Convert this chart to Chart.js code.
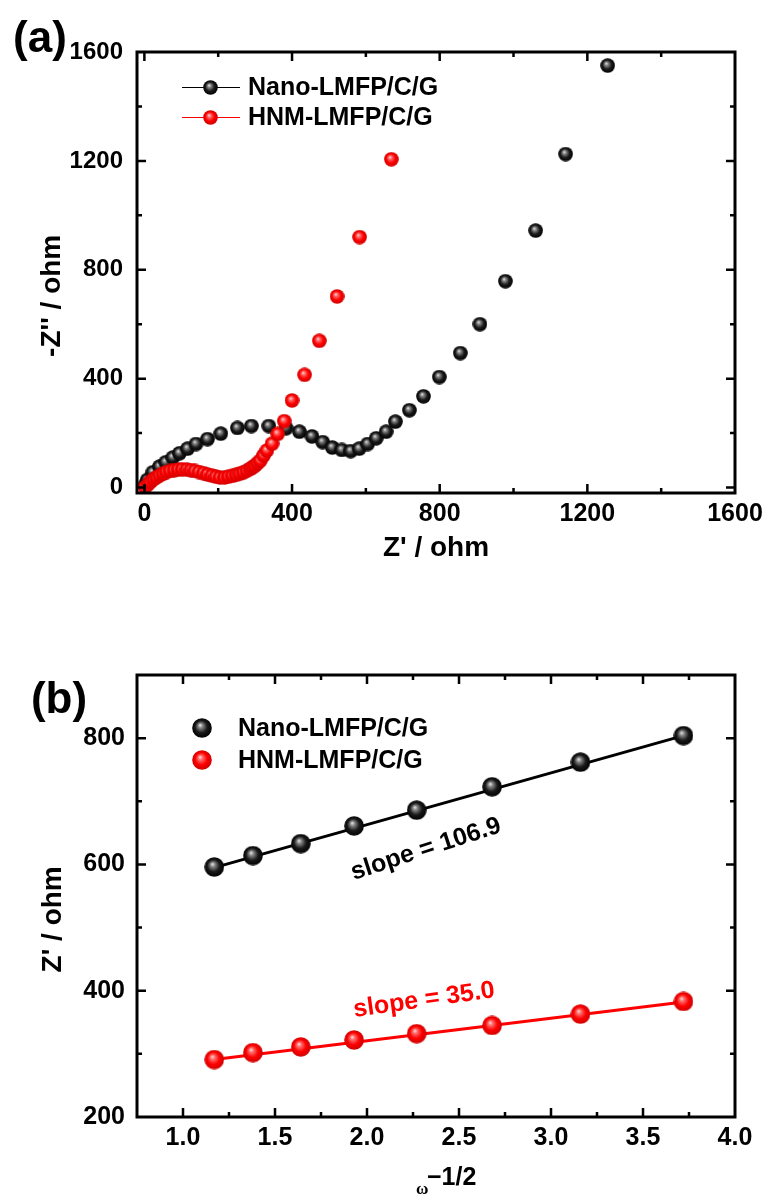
<!DOCTYPE html>
<html>
<head>
<meta charset="utf-8">
<script src="https://cdn.jsdelivr.net/npm/chart.js@4.4.0/dist/chart.umd.min.js"></script>
<style>
  html, body { margin: 0; padding: 0; background: #fff; }
  #wrap { position: relative; width: 769px; height: 1195px; overflow: hidden; }
  canvas { position: absolute; left: 0; }
  #chartA { top: 0; }
  #chartB { top: 600px; }
</style>
</head>
<body>
<div id="wrap">
  <canvas id="chartA" width="769" height="600"></canvas>
  <canvas id="chartB" width="769" height="595"></canvas>
</div>
<script>
var seriesNames = ['Nano-LMFP/C/G', 'HNM-LMFP/C/G'];

// (a) Nyquist plot, Z' and -Z'' in ohm
var nanoZre = [2, 8, 23, 41, 58, 77, 95, 117, 140, 171, 207, 252, 290, 337, 384, 420, 454, 483, 509, 535, 559, 582, 605, 628, 655, 680, 718, 756, 799, 856, 909, 978, 1060, 1141, 1255];
var nanoZim = [10, 28, 56, 77, 93, 110, 126, 143, 160, 178, 198, 219, 226, 226, 218, 205, 188, 167, 147, 138, 134, 143, 160, 181, 205, 242, 284, 335, 406, 494, 600, 758, 944, 1225, 1550];
var hnmZre = [2, 10, 17, 25, 33, 42, 51, 60, 70, 81, 92, 103, 115, 126, 137, 148, 160, 171, 183, 194, 205, 217, 228, 239, 249, 259, 269, 278, 287, 294, 300, 307, 314, 323, 332, 346, 361, 379, 400, 434, 474, 522, 583, 669];
var hnmZim = [1, 12, 22, 31, 38, 45, 51, 57, 61, 64, 66, 67, 66, 64, 61, 57, 53, 48, 44, 40, 37, 37, 40, 43, 47, 51, 56, 62, 69, 75, 81, 90, 99, 118, 136, 161, 197, 244, 320, 414, 539, 702, 920, 1206];
var ticksA = [0, 400, 800, 1200, 1600];

// (b) Z' versus omega^-1/2
var omegaInv = [1.17, 1.38, 1.64, 1.93, 2.27, 2.68, 3.16, 3.72];
var nanoZb = [596, 614, 633, 661, 686, 723, 762, 804];
var hnmZb = [291, 302, 311, 322, 332, 345, 363, 383];
var fitX = [1.17, 3.72];
var nanoFit = [595, 804];
var hnmFit = [291, 382];
var slopeLabels = ['slope = 106.9', 'slope = 35.0'];
var ticksBx = [1.0, 1.5, 2.0, 2.5, 3.0, 3.5, 4.0];
var ticksBy = [200, 400, 600, 800];

var FONT = "'Liberation Sans', Arial, Helvetica, sans-serif";
Chart.defaults.font.family = FONT;
Chart.defaults.color = '#000';

function makeBall(light, mid, dark, edge, d) {
  var c = document.createElement('canvas');
  c.width = d; c.height = d;
  var g = c.getContext('2d');
  var r = d / 2;
  var grad = g.createRadialGradient(r * 0.8, r * 0.7, 0, r, r, r);
  grad.addColorStop(0, light);
  grad.addColorStop(0.22, mid);
  grad.addColorStop(0.6, dark);
  grad.addColorStop(1, edge);
  g.fillStyle = grad;
  g.beginPath();
  g.arc(r, r, r - 0.2, 0, Math.PI * 2);
  g.fill();
  return c;
}
var blackA = makeBall('#f2f2f2', '#8a8a8a', '#1a1a1a', '#000', 15);
var redA = makeBall('#ffe8e8', '#ff7070', '#ff0000', '#cc0000', 15);
var blackB = makeBall('#f2f2f2', '#8a8a8a', '#1a1a1a', '#000', 20);
var redB = makeBall('#ffe8e8', '#ff7070', '#ff0000', '#cc0000', 20);

function toXY(xs, ys) {
  return xs.map(function (x, i) { return {x: x, y: ys[i]}; });
}

function midpoints(arr) {
  var out = [];
  var step = arr[1] - arr[0];
  out.push(arr[0] - step / 2);
  for (var i = 0; i < arr.length; i++) out.push(arr[i] + step / 2);
  return out;
}

// box frame with inward ticks on all four sides
function drawFrame(chart, xMajor, yMajor) {
  var ctx = chart.ctx, a = chart.chartArea;
  var sx = chart.scales.x, sy = chart.scales.y;
  ctx.save();
  ctx.strokeStyle = '#000';
  ctx.lineWidth = 2.5;
  ctx.beginPath();
  function xt(v, len) {
    var p = sx.getPixelForValue(v);
    if (p <= a.left + 2 || p >= a.right - 2) return;
    ctx.moveTo(p, a.bottom); ctx.lineTo(p, a.bottom - len);
    ctx.moveTo(p, a.top); ctx.lineTo(p, a.top + len);
  }
  function yt(v, len) {
    var p = sy.getPixelForValue(v);
    if (p <= a.top + 2 || p >= a.bottom - 2) return;
    ctx.moveTo(a.left, p); ctx.lineTo(a.left + len, p);
    ctx.moveTo(a.right, p); ctx.lineTo(a.right - len, p);
  }
  xMajor.forEach(function (v) { xt(v, 9); });
  midpoints(xMajor).forEach(function (v) { xt(v, 5); });
  yMajor.forEach(function (v) { yt(v, 9); });
  midpoints(yMajor).forEach(function (v) { yt(v, 5); });
  ctx.stroke();
  ctx.lineWidth = 3;
  ctx.strokeRect(a.left, a.top, a.right - a.left, a.bottom - a.top);
  ctx.restore();
}

function fixTicks(values) {
  return function (scale) {
    scale.ticks = values.map(function (v) { return {value: v}; });
  };
}

function fixY(width) {
  return function (scale) {
    scale.width = width;
    scale.paddingTop = 0;
    scale.paddingBottom = 0;
  };
}

function fixX(height) {
  return function (scale) {
    scale.height = height;
    scale.paddingLeft = 0;
    scale.paddingRight = 0;
  };
}

var tickFont = {family: FONT, size: 25, weight: 'bold'};

// ---------- chart (a) ----------
var extrasA = {
  id: 'extrasA',
  afterDraw: function (chart) {
    var ctx = chart.ctx;
    drawFrame(chart, ticksA, ticksA);
    ctx.save();
    ctx.fillStyle = '#000';
    ctx.font = 'bold 44px ' + FONT;
    ctx.textAlign = 'center';
    ctx.textBaseline = 'middle';
    ctx.fillText('(a)', 40, 40);

    // legend: line with ball
    var rows = [87, 117];
    var cols = ['#000', '#ff0000'];
    var balls = [blackA, redA];
    ctx.font = 'bold 25px ' + FONT;
    ctx.textAlign = 'left';
    for (var i = 0; i < 2; i++) {
      ctx.strokeStyle = cols[i];
      ctx.lineWidth = 1;
      ctx.beginPath();
      ctx.moveTo(182, rows[i] + 0.5);
      ctx.lineTo(240, rows[i] + 0.5);
      ctx.stroke();
      ctx.drawImage(balls[i], 210 - 7, rows[i] - 7);
      ctx.fillStyle = '#000';
      ctx.fillText(chart.data.datasets[i].label, 248, rows[i] + 1);
    }
    ctx.restore();
  }
};

new Chart(document.getElementById('chartA'), {
  type: 'scatter',
  data: {
    datasets: [{
      label: seriesNames[0],
      data: toXY(nanoZre, nanoZim),
      pointStyle: blackA,
      pointRadius: 7.5,
      showLine: false,
      order: 2
    }, {
      label: seriesNames[1],
      data: toXY(hnmZre, hnmZim),
      pointStyle: redA,
      pointRadius: 7.5,
      showLine: false,
      order: 1
    }]
  },
  options: {
    responsive: false,
    animation: false,
    events: [],
    layout: {padding: {left: 0, right: 34, top: 52, bottom: 35}},
    plugins: {legend: {display: false}, tooltip: {enabled: false}},
    scales: {
      x: {
        type: 'linear', min: -20, max: 1600,
        grid: {display: false, drawTicks: false},
        border: {display: false},
        afterBuildTicks: fixTicks(ticksA),
        afterFit: fixX(72),
        ticks: {font: tickFont, padding: 6, maxRotation: 0, callback: function (v) { return String(v); }},
        title: {display: true, text: "Z' / ohm", font: {family: FONT, size: 28, weight: 'bold'}, padding: {top: 0, bottom: 0}}
      },
      y: {
        type: 'linear', min: -20, max: 1600,
        grid: {display: false, drawTicks: false},
        border: {display: false},
        afterBuildTicks: fixTicks(ticksA),
        afterFit: fixY(137),
        ticks: {font: {family: FONT, size: 24, weight: 'bold'}, padding: 14, callback: function (v) { return String(v); }},
        title: {display: true, text: "-Z'' / ohm      ", font: {family: FONT, size: 28, weight: 'bold'}, padding: {top: 35, bottom: 0}}
      }
    }
  },
  plugins: [extrasA]
});

// ---------- chart (b) ----------
var slopePos = [{x: 2.32, y: 624, angle: -18, color: '#000'}, {x: 2.31, y: 385, angle: -8, color: '#ff0000'}];

var extrasB = {
  id: 'extrasB',
  afterDraw: function (chart) {
    var ctx = chart.ctx;
    var sx = chart.scales.x, sy = chart.scales.y;
    drawFrame(chart, ticksBx, ticksBy);
    ctx.save();
    ctx.fillStyle = '#000';
    ctx.font = 'bold 44px ' + FONT;
    ctx.textAlign = 'center';
    ctx.textBaseline = 'middle';
    ctx.fillText('(b)', 59, 101);

    // slope annotations
    ctx.font = 'bold 25px ' + FONT;
    for (var i = 0; i < slopeLabels.length; i++) {
      var s = slopePos[i];
      ctx.save();
      ctx.translate(sx.getPixelForValue(s.x), sy.getPixelForValue(s.y));
      ctx.rotate(s.angle * Math.PI / 180);
      ctx.fillStyle = s.color;
      ctx.fillText(slopeLabels[i], 0, 0);
      ctx.restore();
    }

    // legend: ball only
    var rows = [128, 160];
    var balls = [blackB, redB];
    ctx.textAlign = 'left';
    ctx.fillStyle = '#000';
    for (var j = 0; j < 2; j++) {
      ctx.drawImage(balls[j], 202 - 10, rows[j] - 10);
      ctx.fillText(seriesNames[j], 238, rows[j] + 1);
    }

    // x axis title: omega^-1/2
    ctx.textBaseline = 'alphabetic';
    ctx.font = 'bold 17px "Liberation Serif", "Times New Roman", serif';
    ctx.fillText('\u03c9', 416, 594);
    ctx.font = 'bold 25px ' + FONT;
    ctx.fillText('\u22121/2', 427, 585);
    ctx.restore();
  }
};

new Chart(document.getElementById('chartB'), {
  type: 'scatter',
  data: {
    datasets: [{
      label: seriesNames[0],
      data: toXY(omegaInv, nanoZb),
      pointStyle: blackB,
      pointRadius: 10,
      showLine: false,
      order: 1
    }, {
      label: seriesNames[1],
      data: toXY(omegaInv, hnmZb),
      pointStyle: redB,
      pointRadius: 10,
      showLine: false,
      order: 1
    }, {
      label: 'fit ' + seriesNames[0],
      data: toXY(fitX, nanoFit),
      showLine: true,
      borderColor: '#000',
      borderWidth: 3,
      pointRadius: 0,
      order: 3
    }, {
      label: 'fit ' + seriesNames[1],
      data: toXY(fitX, hnmFit),
      showLine: true,
      borderColor: '#ff0000',
      borderWidth: 3,
      pointRadius: 0,
      order: 3
    }]
  },
  options: {
    responsive: false,
    animation: false,
    events: [],
    layout: {padding: {left: 0, right: 34, top: 75, bottom: 28}},
    plugins: {legend: {display: false}, tooltip: {enabled: false}},
    scales: {
      x: {
        type: 'linear', min: 0.75, max: 4.0,
        grid: {display: false, drawTicks: false},
        border: {display: false},
        afterBuildTicks: fixTicks(ticksBx),
        afterFit: fixX(50),
        ticks: {font: tickFont, padding: 6, maxRotation: 0, callback: function (v) { return v.toFixed(1); }}
      },
      y: {
        type: 'linear', min: 200, max: 900,
        grid: {display: false, drawTicks: false},
        border: {display: false},
        afterBuildTicks: fixTicks(ticksBy),
        afterFit: fixY(137),
        ticks: {font: tickFont, padding: 12, callback: function (v) { return String(v); }},
        title: {display: true, text: "Z' / ohm      ", font: {family: FONT, size: 28, weight: 'bold'}, padding: {top: 36, bottom: 0}}
      }
    }
  },
  plugins: [extrasB]
});
</script>
</body>
</html>
